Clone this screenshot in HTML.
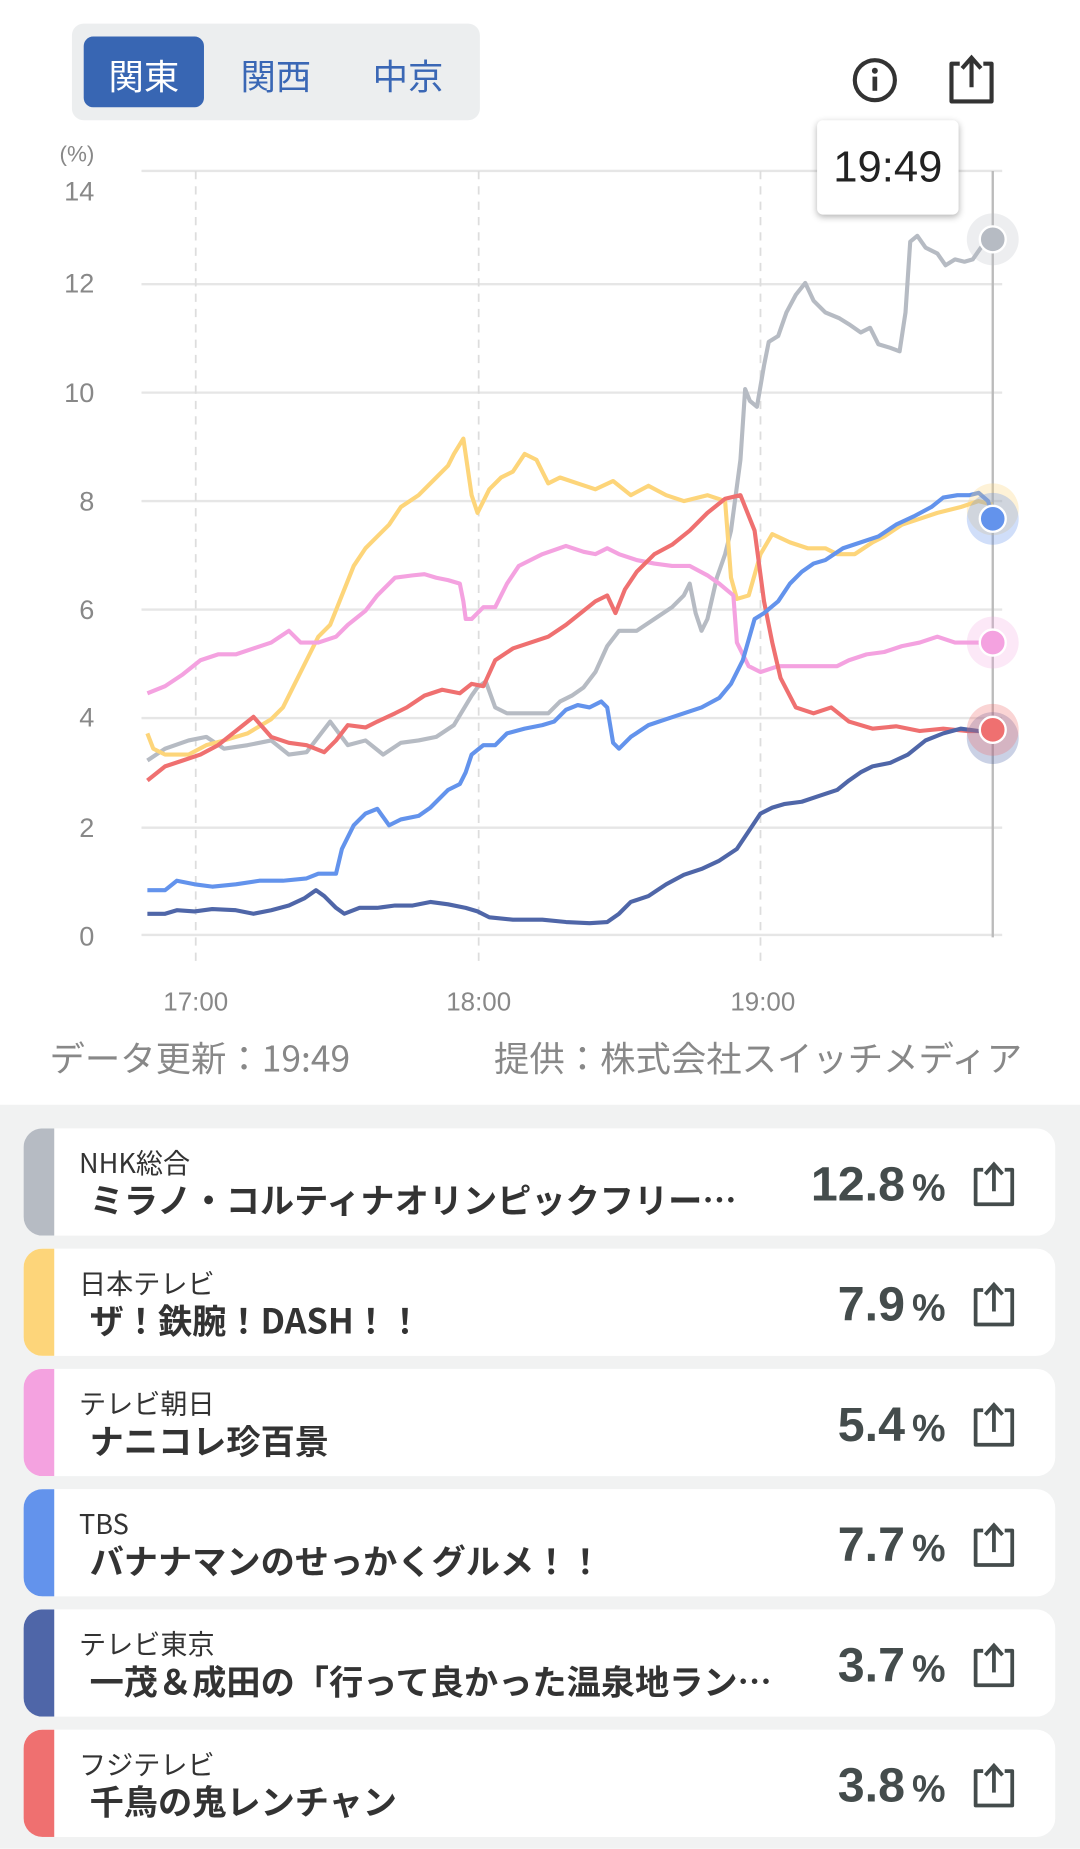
<!DOCTYPE html>
<html><head><meta charset="utf-8"><style>
html,body{margin:0;padding:0;background:#fff;}
body{width:1080px;height:1848px;overflow:hidden;font-family:"Liberation Sans","Noto Sans CJK JP",sans-serif;}
#w{position:absolute;left:0;top:0;width:916px;height:1568px;transform:scale(1.17904);transform-origin:0 0;}
.tabs{position:absolute;left:61px;top:20px;width:346px;height:82px;background:#eceeef;border-radius:10px;}
.tab{position:absolute;top:11px;height:60px;line-height:64px;font-size:30px;color:#3a67b5;text-align:center;width:102px;font-family:"Noto Sans CJK JP",sans-serif;}
.tab.on{background:#3866b3;color:#fff;border-radius:8px;}
.tip{position:absolute;left:693px;top:102px;width:120px;height:80px;background:#fff;border-radius:5px;box-shadow:0 2px 6px rgba(0,0,0,.3);font-size:37px;line-height:80px;text-align:center;color:#222;}
.foot{position:absolute;top:874px;font-size:30px;color:#888;font-family:"Noto Sans CJK JP",sans-serif;line-height:44px;}
.list{position:absolute;left:0;top:937px;width:916px;height:631px;background:#f1f2f2;}
.card{position:absolute;left:20px;width:875px;height:91px;background:#fff;border-radius:16px;overflow:hidden;}
.strip{position:absolute;left:0;top:0;width:26px;height:91px;}
.ch{position:absolute;left:47px;top:12px;font-size:23px;color:#333;font-family:"Noto Sans CJK JP",sans-serif;line-height:32px;}
.pg{position:absolute;left:56px;top:38px;font-size:29px;font-weight:bold;color:#333;white-space:nowrap;font-family:"Noto Sans CJK JP",sans-serif;line-height:44px;}
.val{position:absolute;right:93px;top:24px;font-size:41px;font-weight:bold;color:#444c4c;}
.val span{font-size:32px;font-weight:bold;margin-left:6px;}
.ic{position:absolute;right:30px;top:26px;}
</style></head><body><div id="w">
<div class="tabs"><div class="tab on" style="left:10px">関東</div><div class="tab" style="left:122px">関西</div><div class="tab" style="left:234px">中京</div></div>
<svg style="position:absolute;left:720px;top:45px" width="44" height="44" viewBox="0 0 44 44"><circle cx="22" cy="23" r="17" fill="none" stroke="#333" stroke-width="3.5"/><circle cx="22" cy="15" r="2.5" fill="#333"/><rect x="20" y="20" width="4" height="12" fill="#333"/></svg>
<svg style="position:absolute;left:800px;top:44px" width="48" height="46" viewBox="0 0 48 46"><path d="M14 10 H7 V42 H41 V10 H34" fill="none" stroke="#333" stroke-width="3.5" stroke-linejoin="round"/><path d="M24 30 V6 M16 14 L24 5 L32 14" fill="none" stroke="#333" stroke-width="3.5"/></svg>
<svg style="position:absolute;left:0;top:0" width="916" height="880" viewBox="0 0 916 880">
<g font-size="23" fill="#888" text-anchor="end" font-family="Liberation Sans,sans-serif">
<text x="80" y="137" font-size="19">(%)</text>
<text x="80" y="170">14</text><text x="80" y="248">12</text><text x="80" y="341">10</text><text x="80" y="433">8</text><text x="80" y="525">6</text><text x="80" y="616">4</text><text x="80" y="710">2</text><text x="80" y="802">0</text>
</g>
<g stroke="#e6e6e6" stroke-width="2">
<line x1="120" y1="145" x2="850" y2="145"/><line x1="120" y1="241" x2="850" y2="241"/><line x1="120" y1="333" x2="850" y2="333"/><line x1="120" y1="425" x2="850" y2="425"/><line x1="120" y1="517" x2="850" y2="517"/><line x1="120" y1="609" x2="850" y2="609"/><line x1="120" y1="702" x2="850" y2="702"/><line x1="120" y1="793" x2="850" y2="793"/>
</g>
<g stroke="#ddd" stroke-width="1.5" stroke-dasharray="7,6"><line x1="166" y1="145" x2="166" y2="820"/><line x1="406" y1="145" x2="406" y2="820"/><line x1="645" y1="145" x2="645" y2="820"/></g>
<line x1="842" y1="145" x2="842" y2="795" stroke="#bbb" stroke-width="2"/>
<g font-size="22" fill="#888" text-anchor="middle"><text x="166" y="857">17:00</text><text x="406" y="857">18:00</text><text x="647" y="857">19:00</text></g>
<g fill="none" stroke-width="3.5" stroke-linejoin="round">
<polyline stroke="#b6bbc3" points="125,645 140,635 160,628 175,625 190,635 210,632 230,628 245,640 260,638 280,612 295,632 310,628 325,640 340,630 355,628 370,625 385,615 400,590 405,583 412,578 420,600 430,605 445,605 465,605 475,595 485,590 495,583 505,570 515,548 525,535 540,535 555,525 570,515 580,505 585,495 590,520 595,535 600,525 608,490 615,470 620,450 628,390 632,330 636,340 642,345 648,310 652,290 660,285 667,265 675,250 683,240 690,255 700,265 712,270 720,275 730,282 738,278 745,292 755,295 763,298 768,265 772,205 778,200 785,210 795,215 802,225 810,220 818,222 825,220 832,210 842,202"/>
<polyline stroke="#fdd57a" points="125,622 130,635 140,640 160,640 175,632 190,628 210,622 230,610 240,600 250,580 260,560 270,540 280,530 290,505 300,480 310,465 320,455 330,445 340,430 355,420 370,405 380,395 385,385 393,372 400,420 405,435 415,415 425,405 435,400 445,385 455,390 465,410 475,405 490,410 505,415 520,408 535,420 550,412 565,420 580,425 600,420 615,425 620,490 625,508 635,505 645,470 655,453 670,460 685,465 700,465 710,470 725,470 740,460 750,455 765,445 780,440 795,435 815,430 830,425 842,428"/>
<polyline stroke="#f4a2e0" points="125,588 140,582 155,572 170,560 185,555 200,555 215,550 230,545 245,535 255,545 270,545 285,540 295,530 310,518 320,505 335,490 350,488 360,487 370,490 380,492 390,495 393,510 395,525 400,525 410,515 420,515 430,495 440,480 460,470 480,463 495,468 505,470 515,465 525,470 540,475 555,478 570,480 585,480 600,488 610,495 622,505 625,545 635,565 645,570 660,565 675,565 690,565 710,565 720,560 735,555 750,553 765,548 780,545 795,540 810,545 825,545 842,545"/>
<polyline stroke="#ef7070" points="125,662 140,650 155,645 170,640 185,632 200,620 215,608 230,625 245,630 260,632 275,638 285,628 295,615 310,617 320,612 335,605 345,600 360,590 375,585 390,588 400,580 410,582 420,560 435,550 450,545 465,540 480,530 495,518 505,510 515,505 522,520 530,500 540,485 555,470 570,462 585,450 600,435 615,423 628,420 632,430 640,450 648,510 655,545 662,575 675,600 690,605 705,600 720,612 740,618 760,616 780,620 800,618 820,620 842,620"/>
<polyline stroke="#6393ec" points="125,755 140,755 150,747 165,750 180,752 200,750 220,747 240,747 260,745 270,741 285,741 290,720 300,700 310,690 320,686 330,700 340,695 355,692 365,685 380,670 390,665 395,655 400,640 410,632 420,632 430,622 445,618 460,615 470,612 480,602 490,598 500,600 510,595 515,600 520,630 525,635 535,625 550,615 565,610 580,605 595,600 610,592 620,580 630,560 640,525 648,520 660,510 670,495 680,485 690,478 700,475 715,465 730,460 745,455 760,445 775,438 790,430 800,422 812,420 822,420 830,418 838,425 842,438"/>
<polyline stroke="#4f66a8" points="125,775 140,775 150,772 165,773 180,771 200,772 215,775 230,772 245,768 258,762 268,755 275,760 285,770 292,775 305,770 320,770 335,768 350,768 365,765 380,767 395,770 405,773 415,778 435,780 460,780 480,782 500,783 515,782 525,775 535,765 550,760 565,750 580,742 595,737 610,730 625,720 635,705 645,690 655,685 665,682 680,680 695,675 710,670 720,662 730,655 740,650 755,647 770,640 785,628 800,622 815,618 830,620 842,620"/>
</g>
<circle cx="842" cy="203" r="22" fill="#b6bbc3" opacity=".25"/><circle cx="842" cy="203" r="11" fill="#b6bbc3" stroke="#fff" stroke-width="2"/>
<circle cx="842" cy="432" r="22" fill="#fdd57a" opacity=".3"/><circle cx="842" cy="440" r="22" fill="#6393ec" opacity=".3"/><circle cx="842" cy="440" r="11" fill="#6393ec" stroke="#fff" stroke-width="2"/>
<circle cx="842" cy="545" r="22" fill="#f4a2e0" opacity=".25"/><circle cx="842" cy="545" r="11" fill="#f4a2e0" stroke="#fff" stroke-width="2"/>
<circle cx="842" cy="626" r="22" fill="#4f66a8" opacity=".3"/><circle cx="842" cy="619" r="22" fill="#ef7070" opacity=".3"/><circle cx="842" cy="619" r="11" fill="#ef7070" stroke="#fff" stroke-width="2"/>
</svg>
<div class="tip">19:49</div>
<div class="foot" style="left:42px">データ更新：19:49</div>
<div class="foot" style="left:419px">提供：株式会社スイッチメディア</div>
<div class="list"></div>
<div class="card" style="top:957px"><div class="strip" style="background:#b6bbc3"></div><div class="ch">NHK総合</div><div class="pg">ミラノ・コルティナオリンピックフリー…</div><div class="val">12.8<span>%</span></div><svg class="ic" width="44" height="42" viewBox="0 0 48 46"><path d="M14 10 H7 V42 H41 V10 H34" fill="none" stroke="#444c4c" stroke-width="3.5" stroke-linejoin="round"/><path d="M24 30 V6 M16 14 L24 5 L32 14" fill="none" stroke="#444c4c" stroke-width="3.5"/></svg></div>
<div class="card" style="top:1059px"><div class="strip" style="background:#fdd57a"></div><div class="ch">日本テレビ</div><div class="pg">ザ！鉄腕！DASH！！</div><div class="val">7.9<span>%</span></div><svg class="ic" width="44" height="42" viewBox="0 0 48 46"><path d="M14 10 H7 V42 H41 V10 H34" fill="none" stroke="#444c4c" stroke-width="3.5" stroke-linejoin="round"/><path d="M24 30 V6 M16 14 L24 5 L32 14" fill="none" stroke="#444c4c" stroke-width="3.5"/></svg></div>
<div class="card" style="top:1161px"><div class="strip" style="background:#f4a2e0"></div><div class="ch">テレビ朝日</div><div class="pg">ナニコレ珍百景</div><div class="val">5.4<span>%</span></div><svg class="ic" width="44" height="42" viewBox="0 0 48 46"><path d="M14 10 H7 V42 H41 V10 H34" fill="none" stroke="#444c4c" stroke-width="3.5" stroke-linejoin="round"/><path d="M24 30 V6 M16 14 L24 5 L32 14" fill="none" stroke="#444c4c" stroke-width="3.5"/></svg></div>
<div class="card" style="top:1263px"><div class="strip" style="background:#6393ec"></div><div class="ch">TBS</div><div class="pg">バナナマンのせっかくグルメ！！</div><div class="val">7.7<span>%</span></div><svg class="ic" width="44" height="42" viewBox="0 0 48 46"><path d="M14 10 H7 V42 H41 V10 H34" fill="none" stroke="#444c4c" stroke-width="3.5" stroke-linejoin="round"/><path d="M24 30 V6 M16 14 L24 5 L32 14" fill="none" stroke="#444c4c" stroke-width="3.5"/></svg></div>
<div class="card" style="top:1365px"><div class="strip" style="background:#4f66a8"></div><div class="ch">テレビ東京</div><div class="pg">一茂＆成田の「行って良かった温泉地ラン…</div><div class="val">3.7<span>%</span></div><svg class="ic" width="44" height="42" viewBox="0 0 48 46"><path d="M14 10 H7 V42 H41 V10 H34" fill="none" stroke="#444c4c" stroke-width="3.5" stroke-linejoin="round"/><path d="M24 30 V6 M16 14 L24 5 L32 14" fill="none" stroke="#444c4c" stroke-width="3.5"/></svg></div>
<div class="card" style="top:1467px"><div class="strip" style="background:#ef7070"></div><div class="ch">フジテレビ</div><div class="pg">千鳥の鬼レンチャン</div><div class="val">3.8<span>%</span></div><svg class="ic" width="44" height="42" viewBox="0 0 48 46"><path d="M14 10 H7 V42 H41 V10 H34" fill="none" stroke="#444c4c" stroke-width="3.5" stroke-linejoin="round"/><path d="M24 30 V6 M16 14 L24 5 L32 14" fill="none" stroke="#444c4c" stroke-width="3.5"/></svg></div>
</div></body></html>
